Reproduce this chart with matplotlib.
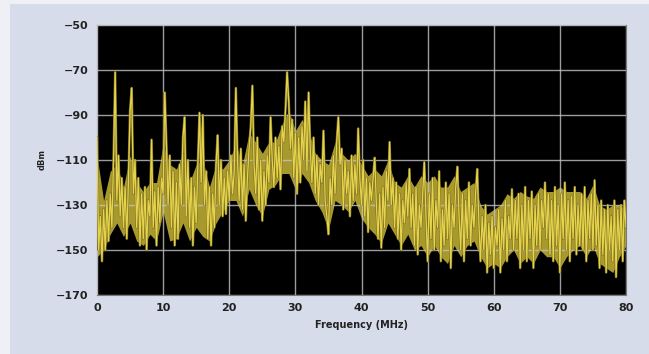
import numpy as np
import matplotlib.pyplot as plt
from matplotlib.patches import Rectangle

# spectrum trace, one value every 0.25 MHz (dBm)
level_dbm = [
    -100, -150, -135, -155,   -132, -150, -128, -146,   -125, -140, -110, -71,
    -128, -108, -135, -118,   -140, -122, -145, -120,   -88, -78, -125, -110,
    -140, -118, -148, -125,   -145, -122, -150, -128,   -135, -101, -140, -124,
    -148, -122, -138, -118,   -125, -80, -103, -130,   -108, -140, -115, -148,
    -120, -145, -112, -130,   -100, -91, -135, -110,   -140, -118, -148, -122,
    -138, -112, -89, -120,    -90, -130, -115, -145,   -122, -148, -125, -140,
    -112, -99, -130, -110,    -135, -118, -134, -115,  -128, -108, -125, -115,
    -78, -110, -128, -105,    -132, -112, -137, -118,  -105, -95, -77, -112,
    -125, -100, -132, -110,   -137, -115, -130, -108,  -120, -91, -110, -122,
    -100, -118, -104, -123,   -95, -102, -88, -71,     -84, -105, -92, -118,
    -98, -125, -100, -120,    -95, -110, -84, -115,    -80, -105, -120, -100,
    -125, -108, -130, -112,   -120, -97, -128, -135,   -143, -118, -130, -108,
    -125, -102, -91, -112,    -105, -132, -110, -125,  -115, -135, -108, -128,
    -112, -125, -96, -118,    -130, -110, -135, -118,  -142, -120, -128, -118,
    -109, -130, -145, -125,   -149, -122, -140, -115,  -128, -102, -130, -118,
    -140, -120, -145, -125,   -150, -128, -138, -120,  -135, -114, -140, -125,
    -148, -122, -152, -130,   -140, -125, -111, -135,  -155, -125, -145, -118,
    -150, -128, -140, -115,   -155, -132, -148, -120,  -145, -125, -158, -130,
    -140, -122, -113, -135,   -150, -125, -155, -128,  -145, -120, -148, -130,
    -140, -125, -114, -138,   -155, -135, -150, -130,  -160, -138, -152, -135,
    -158, -140, -148, -132,   -160, -136, -150, -128,  -155, -135, -145, -123,
    -150, -128, -145, -125,   -158, -130, -150, -122,  -155, -128, -145, -124,
    -158, -130, -148, -125,   -150, -128, -140, -120,  -145, -125, -152, -128,
    -155, -122, -148, -130,   -160, -125, -145, -120,  -150, -128, -155, -126,
    -145, -122, -152, -130,   -148, -125, -150, -122,  -155, -128, -145, -125,
    -150, -119, -148, -130,   -158, -128, -152, -132,  -160, -130, -150, -135,
    -155, -128, -162, -132,   -150, -130, -155, -128,  -140,
]
freq_mhz = np.linspace(0, 80, len(level_dbm))

# top and bottom of the dense noise band, one value per MHz (dBm)
band_top = [
    -108, -128, -115, -112, -122, -108, -120, -124, -120, -120,
    -103, -112, -114, -107, -120, -112, -110, -122, -112, -114,
    -110, -103, -112, -98, -102, -107, -102, -102, -94, -88,
    -97, -92, -97, -107, -110, -112, -102, -107, -110, -107,
    -112, -117, -114, -117, -110, -120, -122, -117, -122, -117,
    -120, -117, -122, -122, -117, -124, -122, -120, -130, -134,
    -132, -130, -125, -127, -124, -126, -127, -122, -124, -124,
    -122, -124, -124, -124, -127, -121, -130, -132, -130, -130,
    -132,
]
band_bottom = [
    -153, -150, -143, -138, -144, -138, -146, -148, -143, -146,
    -133, -146, -145, -138, -146, -140, -144, -146, -138, -133,
    -128, -128, -135, -123, -130, -135, -123, -121, -116, -116,
    -123, -116, -120, -128, -133, -141, -128, -130, -133, -128,
    -136, -140, -143, -147, -138, -143, -148, -143, -150, -148,
    -153, -148, -153, -156, -148, -153, -148, -146, -153, -158,
    -156, -158, -153, -150, -156, -153, -156, -150, -153, -153,
    -158, -153, -150, -148, -153, -148, -156, -158, -160, -153,
    -148,
]
band_freq = np.arange(len(band_top))

x_ticks = [0, 10, 20, 30, 40, 50, 60, 70, 80]
y_ticks = [-170, -150, -130, -110, -90, -70, -50]

font = ['Liberation Sans Narrow', 'DejaVu Sans Condensed', 'DejaVu Sans']

fig = plt.figure(figsize=(6.49, 3.54), dpi=100, facecolor='#eef0f5')
# light blue panel behind the chart
fig.patches.append(Rectangle((10 / 649, 0), 1, 1 - 4 / 354, transform=fig.transFigure,
                             facecolor='#d6dcea', edgecolor='none', zorder=-10))

ax = fig.add_axes([97 / 649, 1 - 295 / 354, 529 / 649, 270 / 354])
ax.set_facecolor('black')

ax.fill_between(band_freq, band_bottom, band_top, color='#a8992f', linewidth=0, zorder=2)
ax.plot(freq_mhz, level_dbm, color='#7d7022', linewidth=1.8, zorder=3)
ax.plot(freq_mhz, level_dbm, color='#e6d34c', linewidth=0.9, zorder=4)

ax.set_xlim(0, 80)
ax.set_ylim(-170, -50)
ax.set_xticks(x_ticks)
ax.set_yticks(y_ticks)
# grid lines sit over the trace, as on the analyser screen
ax.set_axisbelow(False)
ax.grid(True, color='#c4c4c4', linewidth=1.0, alpha=0.8, zorder=5)
ax.tick_params(length=0, pad=6, labelsize=8)
for lab in ax.get_xticklabels() + ax.get_yticklabels():
    lab.set_family(font)
    lab.set_fontweight('bold')
    lab.set_color('#222222')
for s in ax.spines.values():
    s.set_color('#777777')
    s.set_linewidth(0.8)

ax.set_xlabel('Frequency (MHz)', family=font, fontweight='bold', fontsize=7,
              color='#222222', labelpad=5)
ax.set_ylabel('dBm', family=font, fontweight='bold', fontsize=6,
              color='#222222', labelpad=7)

fig.savefig('out.png', dpi=100, facecolor=fig.get_facecolor())
